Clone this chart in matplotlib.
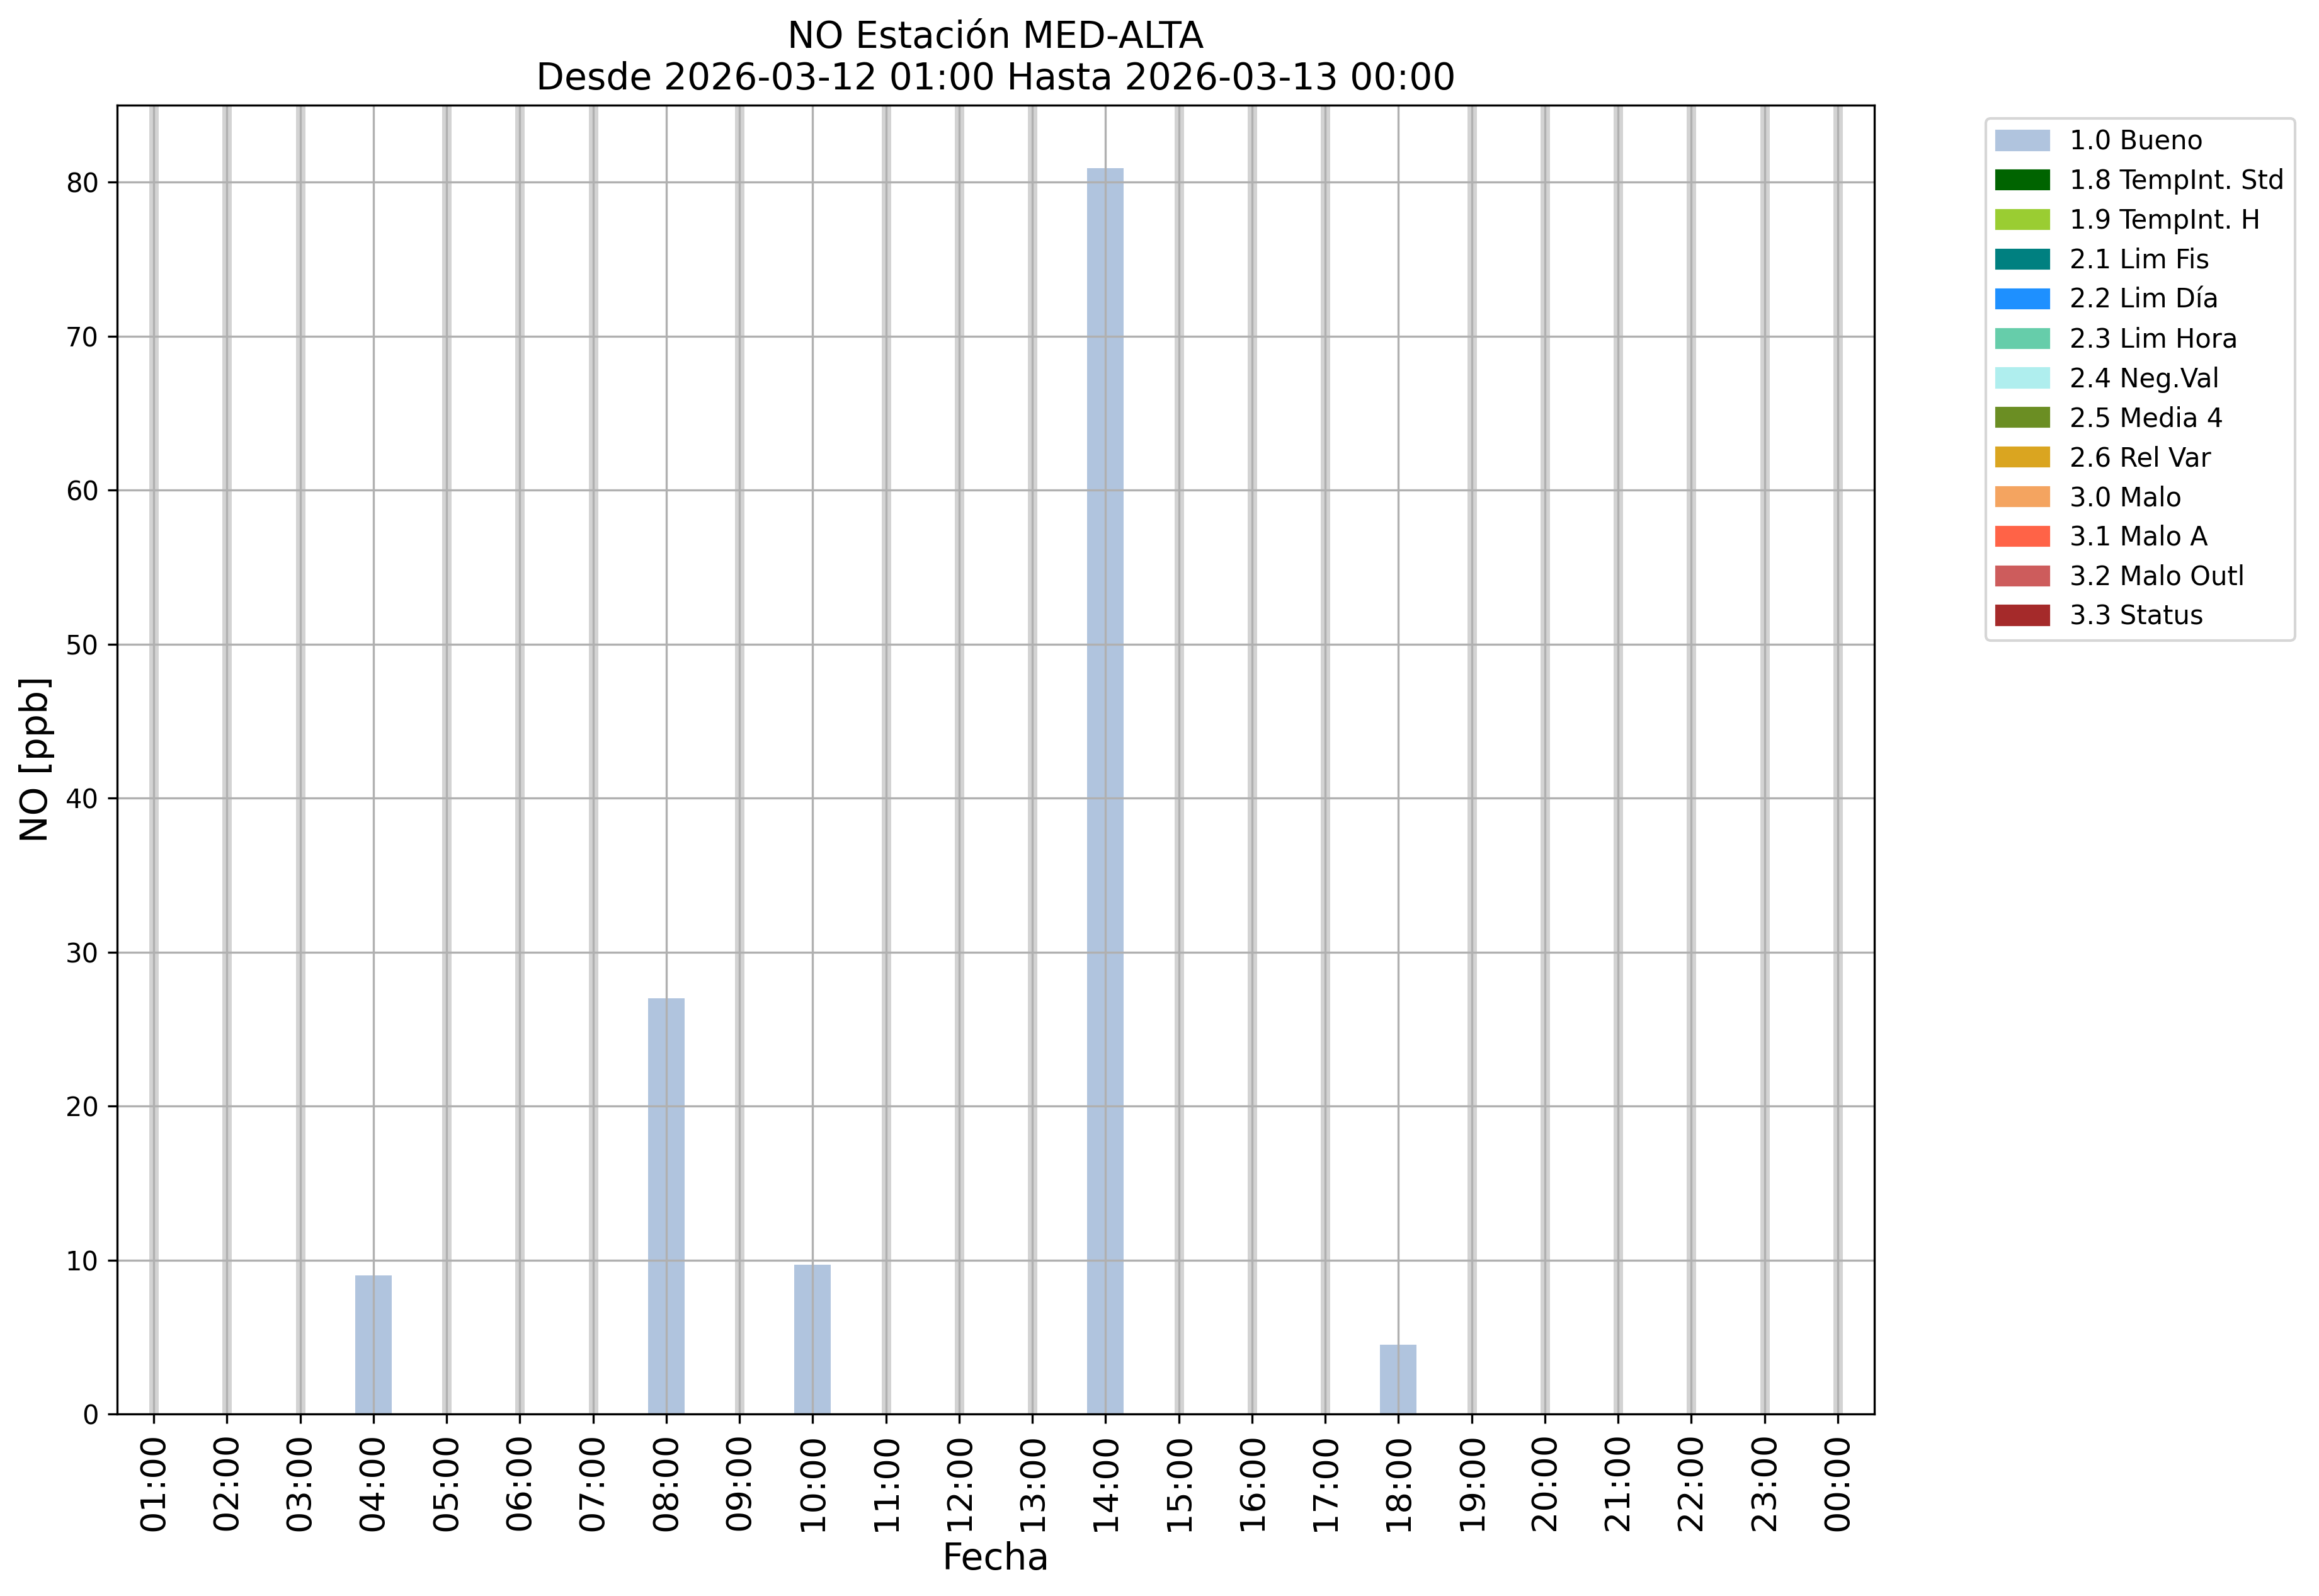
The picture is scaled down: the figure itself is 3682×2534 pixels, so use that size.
import matplotlib
matplotlib.use("Agg")
import matplotlib.pyplot as plt
import matplotlib.patches as mpatches
import numpy as np

hours = ["01:00", "02:00", "03:00", "04:00", "05:00", "06:00", "07:00", "08:00",
         "09:00", "10:00", "11:00", "12:00", "13:00", "14:00", "15:00", "16:00",
         "17:00", "18:00", "19:00", "20:00", "21:00", "22:00", "23:00", "00:00"]
# NO values [ppb]; None = missing hour
values = [None, None, None, 9.0, None, None, None, 27.0,
          None, 9.7, None, None, None, 80.9, None, None,
          None, 4.5, None, None, None, None, None, None]

flag_labels = ["1.0 Bueno", "1.8 TempInt. Std", "1.9 TempInt. H", "2.1 Lim Fis",
               "2.2 Lim Día", "2.3 Lim Hora", "2.4 Neg.Val", "2.5 Media 4",
               "2.6 Rel Var", "3.0 Malo", "3.1 Malo A", "3.2 Malo Outl", "3.3 Status"]
flag_colors = ["lightsteelblue", "darkgreen", "yellowgreen", "teal", "dodgerblue",
               "mediumaquamarine", "paleturquoise", "olivedrab", "goldenrod",
               "sandybrown", "tomato", "indianred", "brown"]

W, H, DPI = 3682, 2534, 300
fig = plt.figure(figsize=(W / DPI, H / DPI), dpi=DPI)
ax = fig.add_axes([186 / W, 1 - 2245 / H, (2976 - 186) / W, (2245 - 167) / H])

x = np.arange(len(hours))
for xi, v in zip(x, values):
    if v is None:
        ax.axvline(xi, color="lightgrey", linewidth=3.6, zorder=0.5)

xs = [xi for xi, v in zip(x, values) if v is not None]
vs = [v for v in values if v is not None]
ax.bar(xs, vs, width=0.5, color=flag_colors[0], zorder=1)

ax.set_xlim(-0.5, len(hours) - 0.5)
ax.set_ylim(0, 85)
ax.set_xticks(x)
ax.set_xticklabels(hours, rotation=90, fontsize=13)
ax.tick_params(axis="y", labelsize=10)
ax.grid(True, color="#b0b0b0", linewidth=0.8)

ax.set_title("NO Estación MED-ALTA\nDesde 2026-03-12 01:00 Hasta 2026-03-13 00:00", fontsize=14)
ax.set_xlabel("Fecha", fontsize=14)
ax.set_ylabel("NO [ppb]", fontsize=14)

handles = [mpatches.Patch(color=c, label=l) for c, l in zip(flag_colors, flag_labels)]
ax.legend(handles=handles, loc="upper left", bbox_to_anchor=(1.056, 1.0), fontsize=10)

fig.savefig("out.png", dpi=DPI)
